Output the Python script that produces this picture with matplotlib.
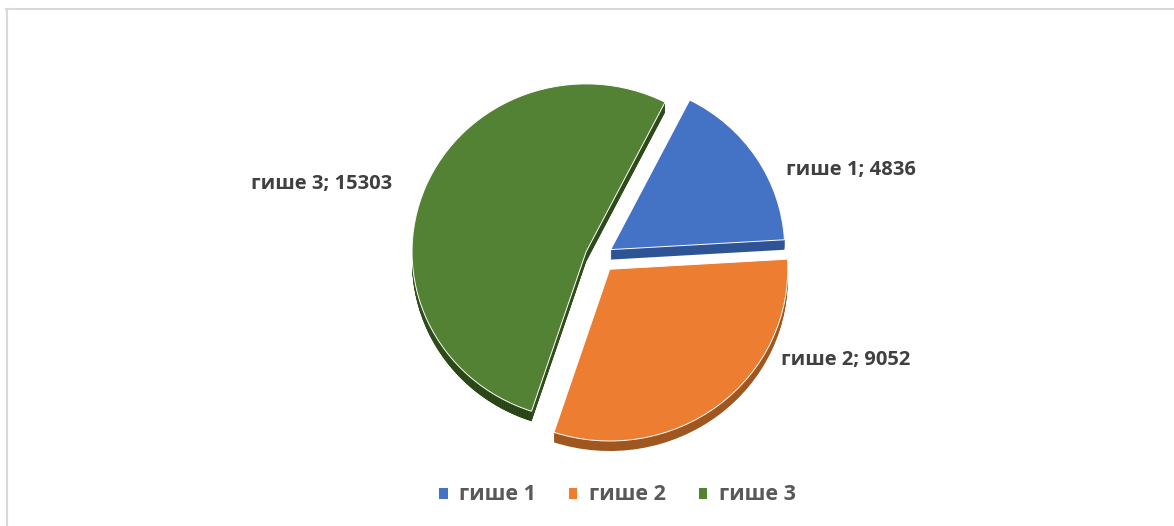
import matplotlib
matplotlib.use('Agg')
import matplotlib.pyplot as plt
from matplotlib.patches import Rectangle
from matplotlib.lines import Line2D

# data
categories = ['гише 1', 'гише 2', 'гише 3']
values = [4836, 9052, 15303]
colors = ['#4472C4', '#ED7D31', '#548235']
side_colors = ['#2F5496', '#A0561F', '#4A7530']

W, H = 1174, 526
K = 0.965   # the pie is tilted, so it is squashed a little in y

def py(y):
    return (H - y) / K

plt.rcParams['font.family'] = ['Open Sans', 'DejaVu Sans']
fig = plt.figure(figsize=(W / 100, H / 100), dpi=100)
ax = fig.add_axes([0, 0, 1, 1])

cx, cy, r = 599, 257, 174
explode = [14, 16, 14]   # pie takes these in data units
pie_args = dict(explode=explode, radius=r, startangle=63, counterclock=False)
orange_r = 178           # the near slice looks a bit bigger in the tilted view

# side of the pie, stacked from the bottom up
depth = 10
for d in range(depth, 0, -1):
    wedges, _ = ax.pie(values, colors=side_colors, center=(cx + 1, py(cy + d)), **pie_args)
    wedges[0].set_center((wedges[0].center[0] - 1, wedges[0].center[1]))
    wedges[1].set_radius(orange_r)
    wedges[2].set_center((wedges[2].center[0] - 1, wedges[2].center[1]))
    wedges[2].set_clip_path(Rectangle((534, 0), W, H / K, transform=ax.transData))
    # lower left rim of the green slice is darker than the cut face
    under, _ = ax.pie(values, colors=['none', 'none', '#243D14'], center=(cx, py(cy + d)), **pie_args)
    under[2].set_clip_path(Rectangle((0, 0), 534, H / K, transform=ax.transData))

# top face
wedges, _ = ax.pie(values, colors=colors, center=(cx, py(cy)),
                   wedgeprops=dict(edgecolor='#ffffff', linewidth=0.7), **pie_args)
wedges[1].set_radius(orange_r)
wedges[1].set_center((wedges[1].center[0] + 1, wedges[1].center[1]))

ax.set_aspect('auto')
ax.set_xlim(0, W)
ax.set_ylim(0, H / K)
ax.axis('off')

# data labels
label_pos = [(851, 170), (846, 360), (322, 184)]
for cat, val, (lx, ly) in zip(categories, values, label_pos):
    ax.text(lx, py(ly), f'{cat}; {val}', ha='center', va='center',
            fontsize=14.5, fontweight='bold', color='#404040')

ax.legend(wedges, categories, loc='center', bbox_to_anchor=(617 / W, 1 - 495 / H),
          ncol=3, frameon=False, handlelength=0.45, handleheight=0.45, handletextpad=0.55,
          columnspacing=1.46, prop=dict(size=15.5, weight='bold'), labelcolor='#595959')

# chart area border
fig.add_artist(Line2D([6.5 / W, 6.5 / W], [0, 1 - 9 / H], color='#D9D9D9', lw=1.5))
fig.add_artist(Line2D([6 / W, 1], [1 - 9 / H, 1 - 9 / H], color='#D9D9D9', lw=1.5))

fig.savefig('out.png', dpi=100)
